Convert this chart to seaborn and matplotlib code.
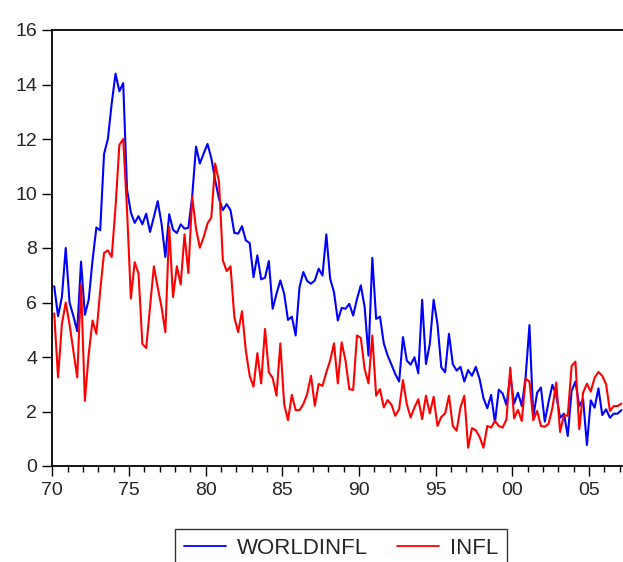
import numpy as np
import pandas as pd
import matplotlib
matplotlib.use("Agg")
import matplotlib.pyplot as plt
from matplotlib.ticker import MultipleLocator, FixedLocator
import seaborn as sns

# Quarterly observations, 1970Q1 .. 2007Q1
start_year = 1970
worldinfl = [
    6.6, 5.5, 6.2, 8.0, 6.0, 5.5, 4.95, 7.5, 5.55, 6.1,
    7.55, 8.75, 8.65, 11.45, 12.0, 13.3, 14.4, 13.75, 14.05, 10.15,
    9.3, 8.92, 9.17, 8.87, 9.26, 8.59, 9.14, 9.72, 8.9, 7.67,
    9.24, 8.67, 8.55, 8.87, 8.71, 8.74, 9.88, 11.72, 11.1, 11.47,
    11.82, 11.29, 10.49, 9.8, 9.39, 9.61, 9.39, 8.55, 8.53, 8.8,
    8.28, 8.18, 6.93, 7.73, 6.85, 6.91, 7.52, 5.77, 6.32, 6.81,
    6.32, 5.36, 5.48, 4.79, 6.56, 7.12, 6.79, 6.69, 6.81, 7.24,
    6.99, 8.5, 6.87, 6.38, 5.34, 5.8, 5.77, 5.95, 5.52, 6.13,
    6.63, 5.83, 4.05, 7.64, 5.4, 5.48, 4.5, 4.05, 3.72, 3.37,
    3.1, 4.73, 3.87, 3.72, 3.99, 3.4, 6.1, 3.74, 4.48, 6.1,
    5.21, 3.62, 3.44, 4.85, 3.74, 3.5, 3.64, 3.1, 3.52, 3.31,
    3.64, 3.19, 2.49, 2.12, 2.61, 1.6, 2.8, 2.66, 2.24, 3.31,
    2.29, 2.69, 2.2, 3.25, 5.17, 1.8, 2.69, 2.88, 1.63, 2.36,
    2.98, 2.6, 1.77, 1.92, 1.1, 2.75, 3.1, 2.2, 2.45, 0.77,
    2.41, 2.14, 2.85, 1.87, 2.08, 1.77, 1.92, 1.92, 2.05,
]
infl = [
    5.6, 3.25, 5.2, 6.0, 5.2, 4.23, 3.25, 6.66, 2.39, 4.11,
    5.34, 4.85, 6.44, 7.82, 7.91, 7.67, 9.51, 11.78, 12.0, 9.39,
    6.15, 7.48, 7.06, 4.48, 4.33, 5.83, 7.33, 6.56, 5.83, 4.91,
    8.77, 6.2, 7.33, 6.66, 8.5, 7.08, 9.88, 8.71, 8.01, 8.4,
    8.9, 9.12, 11.1, 10.43, 7.55, 7.15, 7.33, 5.46, 4.91, 5.68,
    4.23, 3.31, 2.91, 4.14, 3.03, 5.03, 3.44, 3.23, 2.58, 4.5,
    2.27, 1.68, 2.61, 2.05, 2.05, 2.27, 2.64, 3.31, 2.21, 3.01,
    2.94, 3.44, 3.87, 4.5, 3.03, 4.54, 3.87, 2.82, 2.79, 4.79,
    4.7, 3.56, 3.03, 4.79, 2.58, 2.82, 2.15, 2.42, 2.25, 1.84,
    2.09, 3.15, 2.27, 1.78, 2.15, 2.45, 1.72, 2.58, 1.93, 2.54,
    1.47, 1.8, 1.93, 2.58, 1.47, 1.29, 2.15, 2.58, 0.67, 1.39,
    1.31, 1.07, 0.67, 1.47, 1.41, 1.65, 1.47, 1.41, 1.71, 3.61,
    1.75, 2.06, 1.65, 3.21, 3.1, 1.68, 2.02, 1.47, 1.44, 1.55,
    2.14, 3.06, 1.25, 1.87, 1.84, 3.67, 3.83, 1.35, 2.69, 3.02,
    2.73, 3.24, 3.45, 3.31, 3.0, 2.02, 2.2, 2.2, 2.29,
]
series_names = ["WORLDINFL", "INFL"]
series_colors = ["#0000FF", "#FF0000"]
year_ticks = list(range(1970, 2010, 5))
year_labels = ["70", "75", "80", "85", "90", "95", "00", "05"]

n = len(worldinfl)
# each quarter is drawn at the middle of its interval
t = start_year + 0.125 + 0.25 * np.arange(n)

df = pd.DataFrame({
    "t": np.concatenate([t, t]),
    "value": np.concatenate([worldinfl, infl]),
    "series": [series_names[0]] * n + [series_names[1]] * n,
})

sns.set_theme(style="white")
plt.rcParams["font.family"] = ["Liberation Sans", "DejaVu Sans"]

fig = plt.figure(figsize=(6.23, 5.62), dpi=100)
ax = fig.add_axes([52.3 / 623, 96 / 562, 37.5 * 15.33 / 623, 436 / 562])

sns.lineplot(data=df, x="t", y="value", hue="series", hue_order=series_names,
             palette=series_colors, linewidth=1.5, ax=ax, legend=False,
             estimator=None, sort=False)

ax.set_xlim(start_year, 2007.5)
ax.set_ylim(0, 16)
ax.set_xlabel("")
ax.set_ylabel("")

ax.xaxis.set_major_locator(FixedLocator(year_ticks))
ax.set_xticklabels(year_labels)
ax.xaxis.set_minor_locator(MultipleLocator(1))
ax.yaxis.set_major_locator(MultipleLocator(2))

ax.tick_params(axis="x", which="major", direction="out", length=7.5, width=1,
               color="black", labelsize=14, pad=4, bottom=True)
ax.tick_params(axis="x", which="minor", direction="out", length=4, width=1,
               color="black", bottom=True)
ax.tick_params(axis="y", which="major", direction="out", length=7, width=1,
               color="black", labelsize=14, pad=4, left=True)

for side in ["left", "bottom", "top", "right"]:
    ax.spines[side].set_visible(True)
    ax.spines[side].set_color("black")
    ax.spines[side].set_linewidth(1.3)
ax.grid(False)

handles = [plt.Line2D([], [], color=c, linewidth=1.3) for c in series_colors]
leg = fig.legend(handles, series_names, loc="upper center",
                 bbox_to_anchor=(341 / 623, 33 / 562), ncol=2, frameon=True,
                 fancybox=False, fontsize=16, handlelength=1.9,
                 handletextpad=0.5, columnspacing=1.3, borderpad=0.4,
                 borderaxespad=0.0)
leg.get_frame().set_edgecolor("black")
leg.get_frame().set_linewidth(1.0)

fig.savefig("out.png", dpi=100)
